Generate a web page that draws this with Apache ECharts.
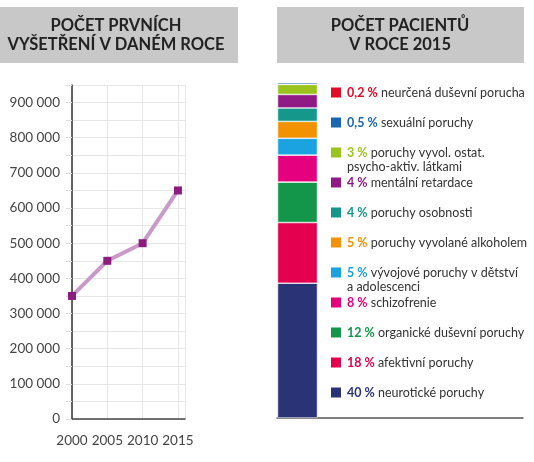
<!DOCTYPE html>
<html>
<head>
<meta charset="utf-8">
<script src="https://cdn.jsdelivr.net/npm/echarts@6/dist/echarts.min.js"></script>
<style>
  html, body { margin: 0; padding: 0; background: #fff; }
  #chart { width: 534px; height: 462px; }
</style>
</head>
<body>
<div id="chart"></div>
<script>
// left chart: first examinations per year
var years = [2000, 2005, 2010, 2015]
var firstVisits = [350000, 450000, 500000, 650000]

// right chart: patients in 2015, bottom of the bar first
var diagnoses = [
  'neurotické poruchy',
  'afektivní poruchy',
  'organické duševní poruchy',
  'schizofrenie',
  'vývojové poruchy v dětství\na adolescenci',
  'poruchy vyvolané alkoholem',
  'poruchy osobnosti',
  'mentální retardace',
  'poruchy vyvol. ostat.\npsycho-aktiv. látkami',
  'sexuální poruchy',
  'neurčená duševní porucha'
]
var shares = [40, 18, 12, 8, 5, 5, 4, 4, 3, 0.5, 0.2]
var colors = ['#2b3377', '#e4004f', '#139649', '#e5007e', '#1aa3e0', '#f39200',
  '#15978b', '#901b86', '#9ac31d', '#1a66b1', '#e30a28']

var font = 'Lato'
var chart = echarts.init(document.getElementById('chart'))

function spaced(v) {
  return String(v).replace(/\B(?=(\d{3})+(?!\d))/g, ' ')
}
function pct(v) {
  return String(v).replace('.', ',') + ' %'
}

var series = [{
  type: 'line',
  xAxisIndex: 0,
  yAxisIndex: 0,
  data: years.map(function (y, i) { return [y, firstVisits[i]] }),
  symbol: 'rect',
  symbolSize: 8,
  itemStyle: { color: '#8b1d7f' },
  lineStyle: { color: '#c99ac8', width: 4 },
  z: 3
}]
var legends = []
var n = diagnoses.length
for (var i = 0; i < n; i++) {
  series.push({
    type: 'bar',
    name: diagnoses[i],
    xAxisIndex: 1,
    yAxisIndex: 1,
    stack: 'total',
    barWidth: 40,
    data: [shares[i]],
    itemStyle: { color: colors[i], borderColor: '#fff', borderWidth: 0.6 }
  })
  // legend rows go top-down, 30px apart
  var lines = diagnoses[i].split('\n').length
  var cy = 92.5 + (n - 1 - i) * 30
  legends.push({
    data: [diagnoses[i]],
    orient: 'vertical',
    left: 329,
    top: cy - 7 - (lines - 1) * 14,
    padding: 0,
    icon: 'rect',
    itemWidth: 12,
    itemHeight: 12,
    selectedMode: false,
    formatter: (function (k) {
      return function (name) {
        var parts = name.split('\n')
        var s = '{p|' + pct(shares[k]) + '} {n|' + parts[0] + '}'
        for (var j = 1; j < parts.length; j++) s += '\n{n|' + parts[j] + '}'
        return s
      }
    })(i),
    textStyle: {
      fontFamily: font,
      fontSize: 12.5,
      lineHeight: 14,
      color: '#333',
      padding: lines > 1 ? [14 * (lines - 1), 0, 0, 0] : 0,
      rich: {
        p: { fontFamily: font, fontSize: 12.5, lineHeight: 14, fontWeight: 'bold', color: colors[i] },
        n: { fontFamily: font, fontSize: 12.5, lineHeight: 14, color: '#333' }
      }
    }
  })
}

chart.setOption({
  animation: false,
  graphic: [
    { type: 'rect', z: -10, shape: { x: 0, y: 7, width: 238, height: 56 }, style: { fill: '#c8c8c8' } },
    { type: 'rect', z: -10, shape: { x: 277, y: 7, width: 247, height: 56 }, style: { fill: '#c8c8c8' } }
  ],
  title: [{
    text: 'POČET PRVNÍCH\nVYŠETŘENÍ V DANÉM ROCE',
    left: 116, top: 16, padding: 0, textAlign: 'center',
    textStyle: { fontFamily: font, fontSize: 16.5, fontWeight: 'bold', lineHeight: 19, color: '#222' }
  }, {
    text: 'POČET PACIENTŮ\nV ROCE 2015',
    left: 400, top: 16, padding: 0, textAlign: 'center',
    textStyle: { fontFamily: font, fontSize: 16.5, fontWeight: 'bold', lineHeight: 19, color: '#222' }
  }],
  legend: legends,
  grid: [
    { left: 72, right: 349, top: 85, bottom: 43 },
    { left: 277, right: 11, top: 82, bottom: 44 }
  ],
  xAxis: [{
    type: 'value',
    gridIndex: 0,
    min: 2000,
    max: 2016,
    interval: 5,
    axisLine: { lineStyle: { color: '#444', width: 1.5 } },
    axisTick: { show: false },
    axisLabel: {
      showMaxLabel: false, margin: 15, fontFamily: font, fontSize: 13.5, color: '#444',
      formatter: function (v) { return String(v) }
    },
    splitLine: { show: true, lineStyle: { color: '#e6e6e6' } }
  }, {
    type: 'category',
    gridIndex: 1,
    data: ['2015', '', '', '', '', ''],
    axisLine: { lineStyle: { color: '#555', width: 1.5 } },
    axisTick: { show: false },
    axisLabel: { show: false }
  }],
  yAxis: [{
    type: 'value',
    gridIndex: 0,
    min: 0,
    max: 950000,
    interval: 50000,
    axisLine: { show: true, lineStyle: { color: '#333', width: 1.5 } },
    axisTick: { show: true, length: 6, lineStyle: { color: '#ddd' } },
    axisLabel: {
      margin: 12, fontFamily: font, fontSize: 13.5, color: '#444',
      formatter: function (v) { return v % 100000 === 0 ? spaced(v) : '' }
    },
    splitLine: { lineStyle: { color: '#e6e6e6' } }
  }, {
    type: 'value',
    gridIndex: 1,
    min: 0,
    max: 99.7,
    show: false
  }],
  series: series
})
</script>
</body>
</html>
